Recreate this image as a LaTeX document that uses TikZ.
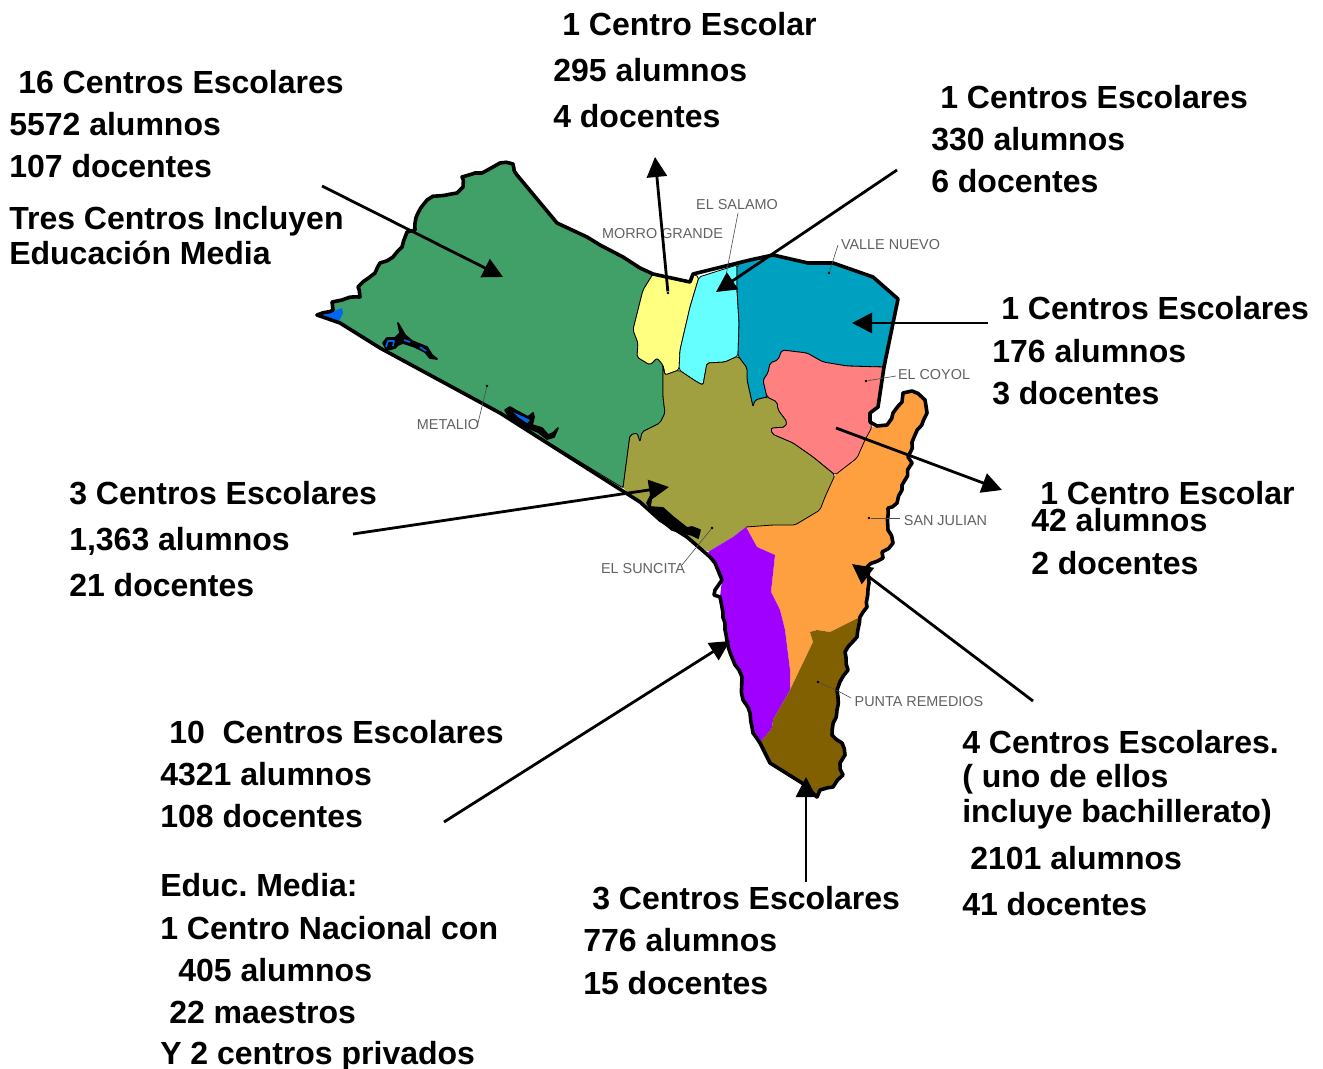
\documentclass[tikz,border=0pt]{standalone}
\usepackage{fontspec}
\setmainfont{Liberation Sans}
\usetikzlibrary{arrows.meta,decorations.pathmorphing}
\definecolor{cgreen}{HTML}{40A068}
\definecolor{cyellow}{HTML}{FFFF80}
\definecolor{ccyan}{HTML}{66FFFF}
\definecolor{cteal}{HTML}{00A0C0}
\definecolor{cpink}{HTML}{FF8080}
\definecolor{colive}{HTML}{A0A040}
\definecolor{corange}{HTML}{FFA040}
\definecolor{cpurple}{HTML}{A000FF}
\definecolor{cbrown}{HTML}{806000}
\definecolor{cwater}{HTML}{0068F0}
\tikzset{
  region/.style={draw=black,line width=0.6pt,line join=round,rounded corners=1.5pt},
  smoothfill/.style={rounded corners=1.5pt},
  coast/.style={draw=black,line width=2.7pt,line join=round,line cap=round},
  wiggly/.style={coast,decorate,decoration={random steps,segment length=5pt,amplitude=1.1pt}},
  lake/.style={draw=black,fill=black,line width=1.3pt,line join=round,line cap=round},
  water/.style={draw=cwater,line width=1.2pt,line join=round},
  info/.style={anchor=base west,inner sep=0pt,font=\fontsize{24}{24}\selectfont\bfseries,text=black},
  place/.style={anchor=center,inner sep=0pt,font=\fontsize{10.8}{11}\selectfont,text=black!62},
  leader/.style={draw=black!70,line width=0.45pt},
  pin/.style={circle,fill=black,inner sep=0pt,minimum size=2pt},
  pointer/.style={draw=black,line width=2.1pt,-{Triangle[length=15pt,width=15pt]}},
}
\newcommand{\bndGreenOlive}{(663,365) -- (663,397) -- (665,413) -- (660,423) -- (642,432) -- (640,442) -- (637,433) -- (630,435) -- (623,488)}
\newcommand{\bndPinkTeal}{(884,367) -- (847,366) -- (823,362) -- (807,353) -- (782,350) -- (778,360) -- (770,363) -- (768,373) -- (763,380) -- (767,397)}
\newcommand{\oliveEdge}{(623,488) -- (630,435) -- (637,433) -- (640,442) -- (642,432) -- (660,423) -- (665,413) -- (663,397) -- (663,365) -- (665,375) -- (679,370) -- (697,382) -- (703,385) -- (707,363) -- (725,362) -- (738,356) -- (747,368) -- (747,380) -- (753,407) -- (755,400) -- (767,397) -- (777,402) -- (778,410) -- (787,422) -- (785,427) -- (771,428) -- (772,434) -- (793,443) -- (813,457) -- (835,475) -- (825,497) -- (820,510) -- (795,525) -- (773,525) -- (746,527)}
\begin{document}
\begin{tikzpicture}[x=0.75pt,y=-0.75pt]
\frenchspacing
\pgfmathsetseed{7}
\useasboundingbox (0,0) rectangle (1323,1069);
% regions
\path[region,fill=cgreen] (317,315) -- (333,310) -- (332,302) -- (342,300) -- (360,297) -- (358,287) -- (375,273) -- (380,263) -- (393,257) -- (402,247) -- (407,232) -- (415,230) -- (418,213) -- (427,200) -- (437,196) -- (457,193) -- (463,187) -- (462,177) -- (482,173) -- (493,167) -- (500,163) -- (513,164) -- (517,175) -- (557,223) -- (587,237) -- (600,245) -- (623,257) -- (640,268) -- (653,274) -- (643,290) -- (633,330) -- (638,343) -- (637,357) -- (650,365) -- (657,358) -- \bndGreenOlive -- (500,413) -- (380,348) -- (340,323) -- cycle;
\path[region,fill=cyellow] (653,274) -- (690,282) -- (693,274) -- (699,277) -- (690,307) -- (687,320) -- (680,350) -- (679,370) -- (665,375) -- (663,365) -- (657,358) -- (650,365) -- (637,357) -- (638,343) -- (633,330) -- (643,290) -- cycle;
\path[region,fill=ccyan] (699,277) -- (737,265) -- (737,290) -- (739,323) -- (738,356) -- (725,362) -- (707,363) -- (703,385) -- (697,382) -- (679,370) -- (680,350) -- (687,320) -- (690,307) -- cycle;
\path[region,fill=cteal] (737,265) -- (750,260) -- (773,255) -- (808,263) -- (833,263) -- (873,277) -- (898,299) -- \bndPinkTeal -- (755,400) -- (753,407) -- (747,380) -- (747,368) -- (738,356) -- (739,323) -- (737,290) -- cycle;
\fill[corange] (835,475) -- (857,458) -- (865,440) -- (872,427) -- (877,426) -- (887,425) -- (893,413) -- (902,402) -- (903,393) -- (912,391) -- (925,400) -- (927,413) -- (915,435) -- (908,457) -- (912,463) -- (905,480) -- (902,490) -- (897,503) -- (888,508) -- (888,530) -- (893,543) -- (882,552) -- (883,558) -- (867,567) -- (869,583) -- (867,607) -- (860,617) -- (830,632) -- (817,630) -- (810,632) -- (813,642) -- (790,690) -- (790,670) -- (785,630) -- (780,610) -- (771,592) -- (775,555) -- (757,547) -- (746,527) -- (773,525) -- (795,525) -- (820,510) -- (825,497) -- cycle;
\path[region,fill=cpink] \bndPinkTeal -- (777,402) -- (778,410) -- (787,422) -- (785,427) -- (771,428) -- (772,434) -- (793,443) -- (813,457) -- (835,475) -- (857,458) -- (865,440) -- (872,427) -- (870,422) -- (870,413) -- (878,407) -- cycle;
\fill[colive,smoothfill] \oliveEdge -- (733,537) -- (708,552) -- (687,537) -- (633,497) -- cycle;
\path[region] \oliveEdge;
\fill[cpurple] (746,527) -- (757,547) -- (775,555) -- (771,592) -- (780,610) -- (785,630) -- (790,670) -- (790,690) -- (773,720) -- (772,728) -- (760,743) -- (753,733) -- (750,713) -- (743,700) -- (742,677) -- (733,660) -- (725,630) -- (723,613) -- (720,597) -- (722,580) -- (715,563) -- (708,552) -- (733,537) -- cycle;
\fill[cbrown] (860,617) -- (857,637) -- (845,652) -- (848,670) -- (837,690) -- (837,710) -- (832,735) -- (842,743) -- (845,755) -- (840,763) -- (843,775) -- (833,787) -- (820,790) -- (817,797) -- (802,783) -- (770,763) -- (760,743) -- (772,728) -- (773,720) -- (790,690) -- (813,642) -- (810,632) -- (817,630) -- (830,632) -- cycle;
% water
\path[fill=cwater] (320,316) -- (342,308) -- (343,313) -- (338,323) -- cycle;
\path[lake] (383,343) -- (387,338) -- (395,338) -- (400,333) -- (398,323) -- (405,335) -- (412,341) -- (427,347) -- (432,355) -- (437,359) -- (430,358) -- (425,352) -- (415,347) -- (403,343) -- (398,345) -- (395,348) -- (387,350) -- cycle;
\path[water] (386,347) -- (388,341) -- (394,341) -- (393,346);
\path[water] (404,340) -- (410,342);
\path[water] (420,347) -- (426,351);
\path[lake] (505,410) -- (510,407) -- (515,410) -- (528,417) -- (533,413) -- (534,417) -- (532,425) -- (542,428) -- (548,435) -- (553,433) -- (558,428) -- (554,437) -- (547,439) -- (538,432) -- (528,428) -- (518,422) -- (508,415) -- cycle;
\fill[cwater] (513,412) -- (530,420) -- (527,423) -- (518,417) -- cycle;
% coast
\path[wiggly] (317,315) -- (333,310) -- (332,302) -- (342,300) -- (360,297) -- (358,287) -- (375,273) -- (380,263) -- (393,257) -- (402,247) -- (407,232) -- (415,230) -- (418,213) -- (427,200) -- (437,196) -- (457,193) -- (463,187) -- (462,177) -- (482,173) -- (493,167) -- (500,163) -- (513,164) -- (517,175);
\path[coast] (517,175) -- (557,223) -- (587,237) -- (600,245) -- (623,257) -- (640,268) -- (653,274) -- (690,282) -- (693,274) -- (750,260) -- (773,255) -- (808,263) -- (833,263) -- (873,277) -- (898,299) -- (884,367) -- (878,407) -- (870,413) -- (870,422) -- (877,426) -- (887,425);
\path[wiggly] (887,425) -- (893,413) -- (902,402) -- (903,393) -- (912,391) -- (925,400) -- (927,413) -- (915,435) -- (908,457) -- (912,463) -- (905,480) -- (902,490) -- (897,503) -- (888,508) -- (888,530) -- (893,543) -- (882,552) -- (883,558) -- (867,567) -- (869,583) -- (867,607) -- (860,617) -- (857,637) -- (845,652) -- (848,670) -- (837,690) -- (837,710) -- (832,735) -- (842,743) -- (845,755) -- (840,763) -- (843,775) -- (833,787) -- (820,790) -- (817,797);
\path[coast] (817,797) -- (802,783) -- (770,763) -- (760,743);
\path[wiggly] (760,743) -- (753,733) -- (750,713) -- (743,700) -- (742,677) -- (733,660) -- (725,630) -- (723,613) -- (720,597);
\path[coast] (720,597) -- (714,595) -- (715,590) -- (722,580) -- (715,563) -- (710,557) -- (687,537) -- (660,520) -- (640,502) -- (500,413) -- (380,348) -- (340,323) -- (317,315);
% lagoon beside the coast near El Suncita
\path[lake] (647,503) -- (652,493) -- (650,507) -- (663,508) -- (673,517) -- (687,528) -- (692,527) -- (700,530) -- (698,538) -- (692,535) -- (672,530) -- (655,516) -- cycle;
% map labels
\node[place] (salamo) at (737,205) {EL SALAMO};
\node[place] (morro) at (662.5,234) {MORRO GRANDE};
\node[place] (valle) at (890.5,245) {VALLE NUEVO};
\node[place] (coyol) at (934,375) {EL COYOL};
\node[place] (metalio) at (448,425) {METALIO};
\node[place] (julian) at (945.5,521) {SAN JULIAN};
\node[place] (suncita) at (643,569) {EL SUNCITA};
\node[place] (punta) at (919,702) {PUNTA REMEDIOS};
% pins and leaders
\node[pin] (pSalamo) at (725,282) {};
\node[pin] (pMorro) at (668,293) {};
\node[pin] (pValle) at (829,273) {};
\node[pin] (pCoyol) at (866,381) {};
\node[pin] (pMetalio) at (487,386) {};
\node[pin] (pJulian) at (869,518) {};
\node[pin] (pSuncita) at (712,528) {};
\node[pin] (pPunta) at (818,682) {};
\coordinate (lSalamo) at (738,213);
\coordinate (lValle) at (838,245);
\coordinate (lCoyol) at (896,376);
\coordinate (lMetalio) at (477,427);
\coordinate (lJulian) at (900,518);
\coordinate (lSuncita) at (682,565);
\coordinate (lPunta) at (851,698);
\path[leader] (lSalamo) -- (727,270) -- (pSalamo);
\path[leader] (lValle) -- (pValle);
\path[leader] (lCoyol) -- (884,378) -- (pCoyol);
\path[leader] (lMetalio) -- (pMetalio);
\path[leader] (lJulian) -- (pJulian);
\path[leader] (lSuncita) -- (pSuncita);
\path[leader] (lPunta) -- (838,691) -- (pPunta);
% arrows
\coordinate (a1s) at (322,186); \coordinate (a1e) at (503,277);
\coordinate (a2e) at (655,157);
\coordinate (a3s) at (897,170); \coordinate (a3e) at (716,292);
\coordinate (a4s) at (988,323); \coordinate (a4e) at (852,323);
\coordinate (a5s) at (836,428); \coordinate (a5e) at (1002,490);
\coordinate (a6s) at (353,534); \coordinate (a6e) at (669,487);
\coordinate (a7s) at (1033,701); \coordinate (a7e) at (852,564);
\coordinate (a8s) at (444,822); \coordinate (a8e) at (730,641);
\coordinate (a9s) at (806,882); \coordinate (a9e) at (806,777);
\path[pointer] (a1s) -- (a1e);
\path[pointer] (pMorro) -- (a2e);
\path[pointer] (a3s) -- (a3e);
\path[pointer] (a4s) -- (a4e);
\path[pointer] (a5s) -- (a5e);
\path[pointer] (a6s) -- (a6e);
\path[pointer] (a7s) -- (a7e);
\path[pointer] (a8s) -- (a8e);
\path[pointer] (a9s) -- (a9e);
% info text
\node[info] (t1a) at (18,94) {16 Centros Escolares};
\node[info] (t1b) at (9,136) {5572 alumnos};
\node[info] (t1c) at (9,178) {107 docentes};
\node[info] (t1d) at (9,230) {Tres Centros Incluyen};
\node[info] (t1e) at (9,265) {Educación Media};
\node[info] (t2a) at (562,36) {1 Centro Escolar};
\node[info] (t2b) at (553,82) {295 alumnos};
\node[info] (t2c) at (553,128) {4 docentes};
\node[info] (t3a) at (940,109) {1 Centros Escolares};
\node[info] (t3b) at (931,151) {330 alumnos};
\node[info] (t3c) at (931,193) {6 docentes};
\node[info] (t4a) at (1001,320) {1 Centros Escolares};
\node[info] (t4b) at (992,363) {176 alumnos};
\node[info] (t4c) at (992,405) {3 docentes};
\node[info] (t5a) at (1040,504) {1 Centro Escolar};
\node[info] (t5b) at (1031,531) {42 alumnos};
\node[info] (t5c) at (1031,574) {2 docentes};
\node[info] (t6a) at (69,504) {3 Centros Escolares};
\node[info] (t6b) at (69,550) {1,363 alumnos};
\node[info] (t6c) at (69,596) {21 docentes};
\node[info] (t7a) at (169,743) {10\ \ Centros Escolares};
\node[info] (t7b) at (160,785) {4321 alumnos};
\node[info] (t7c) at (160,827) {108 docentes};
\node[info] (t7d) at (160,896) {Educ. Media:};
\node[info] (t7e) at (160,939) {1 Centro Nacional con};
\node[info] (t7f) at (178,981) {405 alumnos};
\node[info] (t7g) at (169,1023) {22 maestros};
\node[info] (t7h) at (160,1064) {Y 2 centros privados};
\node[info] (t8a) at (592,909) {3 Centros Escolares};
\node[info] (t8b) at (583,951) {776 alumnos};
\node[info] (t8c) at (583,994) {15 docentes};
\node[info] (t9a) at (962,753) {4 Centros Escolares.};
\node[info] (t9b) at (962,787) {( uno de ellos};
\node[info] (t9c) at (962,822) {incluye bachillerato)};
\node[info] (t9d) at (970,869) {2101 alumnos};
\node[info] (t9e) at (962,915) {41 docentes};
\end{tikzpicture}
\end{document}
